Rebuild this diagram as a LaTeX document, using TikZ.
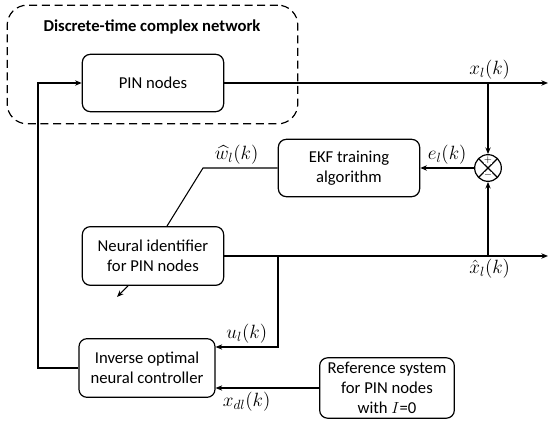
\documentclass[tikz,border=0pt]{standalone}
\usepackage{amsmath}
\usepackage{fontspec}
\setmainfont{Carlito}
\usetikzlibrary{arrows.meta, positioning, calc}
\tikzset{
	blk/.style ={rectangle, rounded corners=6pt, draw=black, line width=0.9pt, minimum width=106pt, minimum height=43pt, align=center, font=\fontsize{12.5}{15}\selectfont},
	grp/.style ={rectangle, rounded corners=15pt, draw=black, line width=0.9pt, dash pattern=on 6pt off 3.5pt, minimum width=218pt, minimum height=89pt},
	sumj/.style={circle, draw=black, line width=0.9pt, minimum size=20pt, inner sep=0pt,
		path picture={\draw[line width=0.9pt] (path picture bounding box.south west) -- (path picture bounding box.north east)
			(path picture bounding box.north west) -- (path picture bounding box.south east);}},
	sgn/.style ={font=\fontsize{7}{7}\selectfont\bfseries, inner sep=0pt, fill=white, minimum size=4pt},
	sig/.style ={-{Stealth[length=5pt, width=4pt]}, line width=0.8pt},
	wire/.style={line width=0.8pt},
	lbl/.style ={font=\fontsize{14}{16}\selectfont, inner sep=2pt},
}
\begin{document}
\begin{tikzpicture}[x=0.75pt, y=-0.75pt]
	\useasboundingbox (0,0) rectangle (550,423);
	% blocks
	\node[grp] (net) at (152.5,64.5) {};
	\node[lbl, font=\fontsize{12.5}{15}\selectfont\bfseries] (title) at (152,27) {Discrete-time complex network};
	\node[blk] (pin) at (153,83) {PIN nodes};
	\node[blk] (ekf) at (349,168) {EKF training\\ algorithm};
	\node[sumj] (sum) at (488,168) {};
	\node[sgn] (plus) at ($(sum)+(0,-7.5)$) {$+$};
	\node[sgn] (minus) at ($(sum)+(0,7.5)$) {$-$};
	\node[blk, minimum height=44pt] (nid) at (153,256) {Neural identifier\\ for PIN nodes};
	\node[blk, minimum width=102pt, minimum height=44pt] (ctrl) at (147,368) {Inverse optimal\\ neural controller};
	\node[blk, minimum width=101pt, minimum height=44pt] (ref) at (387,388) {Reference system\\ for PIN nodes\\ with $I$=0};
	% free ends and bends
	\coordinate (xout) at (548,83);
	\coordinate (xhout) at (548,256);
	\coordinate (wk) at (203,168);
	\coordinate (tap) at (278,256);
	\coordinate (fb) at (38,368);
	% connectors
	\draw[sig] (pin.east) -- (xout) node[lbl, pos=0.82, above] {$x_l(k)$};
	\draw[sig] (sum |- pin.east) -- (sum.north);
	\draw[sig] (sum.west) -- (ekf.east) node[lbl, midway, above] {$e_l(k)$};
	\draw[wire] (ekf.west) -- (wk) node[lbl, pos=0.55, above] {$\widehat{w}_l(k)$} -- ($(nid.north)+(14,0)$);
	\draw[sig] ($(nid.south)+(-25,0)$) -- ++(-11,11);
	\draw[sig] (nid.east) -- (xhout) node[lbl, pos=0.82, below] {$\hat{x}_l(k)$};
	\draw[sig] (sum |- nid.east) -- (sum.south);
	\draw[sig] (tap) |- ($(ctrl.east)+(0,-21)$) node[lbl, pos=0.75, above] {$u_l(k)$};
	\draw[sig] (ref.west) -- (ctrl.east |- ref.west) node[lbl, pos=0.7, below=1pt] {$x_{dl}(k)$};
	\draw[sig] (ctrl.west) -- (fb) |- (pin.west);
\end{tikzpicture}
\end{document}
